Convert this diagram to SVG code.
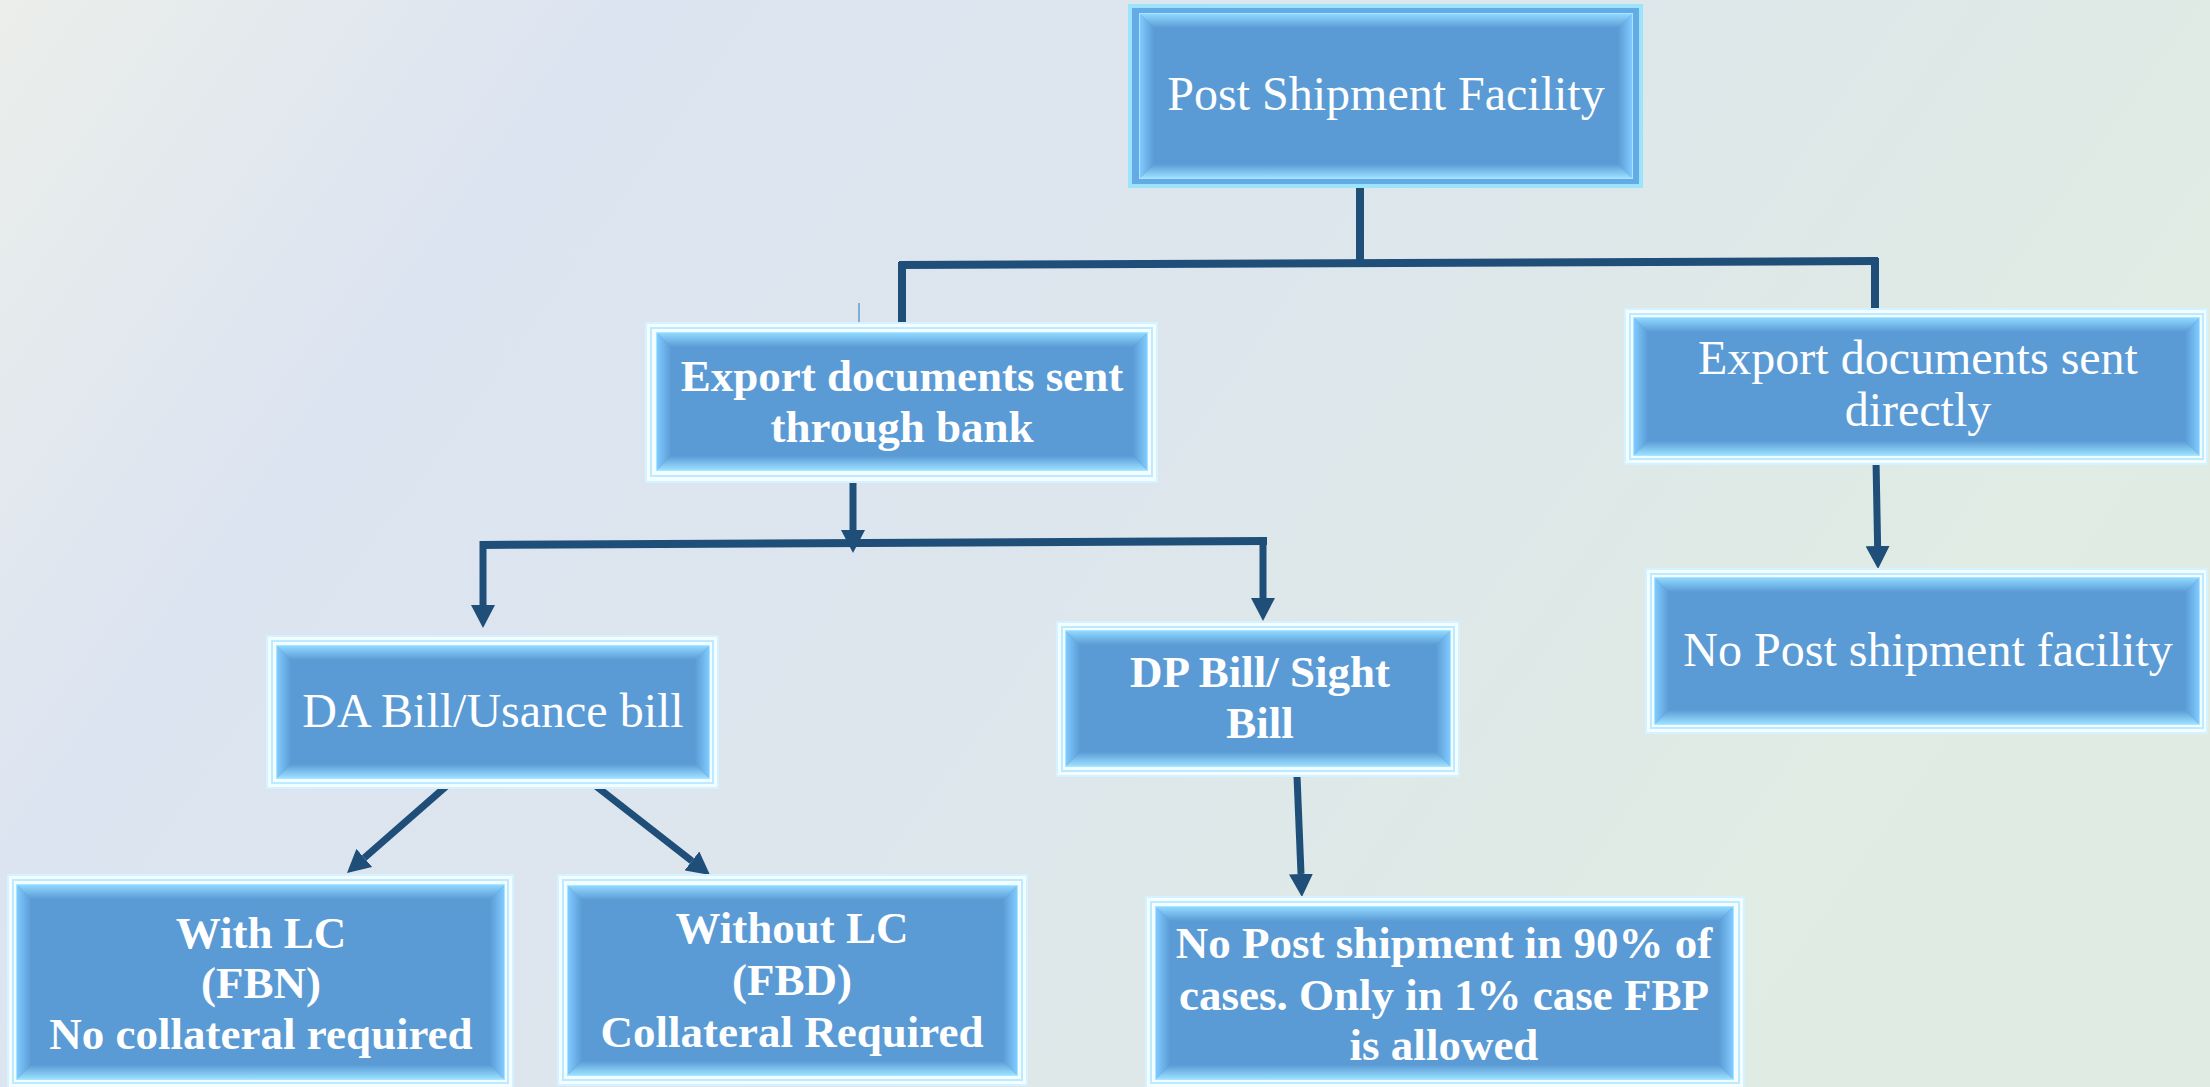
<svg xmlns="http://www.w3.org/2000/svg" width="2210" height="1087" viewBox="0 0 2210 1087">
<defs>
<linearGradient id="bg" x1="0" y1="0" x2="1" y2="0.35">
<stop offset="0" stop-color="#ebeeea"/>
<stop offset="0.25" stop-color="#dce4f1"/>
<stop offset="0.6" stop-color="#dde6ec"/>
<stop offset="1" stop-color="#e0ece3"/>
</linearGradient>
<linearGradient id="bt" x1="0" y1="0" x2="0" y2="1"><stop offset="0" stop-color="#8fd8ff"/><stop offset="1" stop-color="#5b9bd5"/></linearGradient>
<linearGradient id="bb" x1="0" y1="0" x2="0" y2="1"><stop offset="0" stop-color="#5b9bd5"/><stop offset="1" stop-color="#9ae0ff"/></linearGradient>
<linearGradient id="bl" x1="0" y1="0" x2="1" y2="0"><stop offset="0" stop-color="#80caff"/><stop offset="1" stop-color="#5b9bd5"/></linearGradient>
<linearGradient id="br" x1="0" y1="0" x2="1" y2="0"><stop offset="0" stop-color="#5b9bd5"/><stop offset="1" stop-color="#80caff"/></linearGradient>
<marker id="ah" viewBox="0 0 23 24" refX="0" refY="12" markerWidth="23" markerHeight="24" markerUnits="userSpaceOnUse" orient="auto">
<path d="M0,0 L23,12 L0,24 Z" fill="#1f4e79"/>
</marker>
<style>
.frame{fill:#f3fcff;stroke:#d4f2ff;stroke-width:2}
.frame1{fill:#64abe6;stroke:#9be4fb;stroke-width:4}
.in{fill:#5b9bd5;stroke:#a8e6ff;stroke-width:2}
.inset{fill:none;stroke:#bdeaff;stroke-width:2}
.t{fill:#5b9bd5}
.bt{fill:url(#bt)}.bb{fill:url(#bb)}.bl{fill:url(#bl)}.br{fill:url(#br)}
.lbl{font-family:"Liberation Serif","Times New Roman",serif;fill:#ffffff;text-anchor:middle}
.r{font-size:48px;font-weight:normal}
.b{font-size:45px;font-weight:bold}
.c{fill:none;stroke:#1f4e79;stroke-width:8;stroke-linecap:butt}
.ca{fill:none;stroke:#1f4e79;stroke-width:7;marker-end:url(#ah)}
</style>
</defs>
<rect x="0" y="0" width="2210" height="1087" fill="url(#bg)"/>

<g id="connectors">
<path class="c" d="M1360,186 L1360,264" stroke-width="7"/>
<path class="c" d="M899,265 L1878,261"/>
<path class="c" d="M902,262 L902,323" stroke-width="7"/>
<path class="c" d="M1875,258 L1875,313" stroke-width="7"/>
<path d="M859,303 L859,347" stroke="#5b9bd5" stroke-width="1.5" fill="none"/>
<path class="c" d="M480,545 L1267,541"/>
<path class="ca" d="M853,479 L853,530"/>
<path class="ca" d="M483,541 L483,605"/>
<path class="ca" d="M1263,537 L1263,598"/>
<path class="ca" d="M451,782 L364.3,857.9"/>
<path class="ca" d="M592,783 L691.9,860.9"/>
<path class="ca" d="M1297,776 L1301,874"/>
<path class="ca" d="M1876,460 L1877.6,546"/>
</g>

<g id="node-post-shipment-facility">
<rect class="frame1" x="1130" y="6" width="511" height="180"/>
<rect class="in" x="1140" y="14" width="492" height="164"/>
<polygon class="bt" points="1140,14 1632,14 1618,28 1154,28"/>
<polygon class="bb" points="1140,178 1632,178 1618,164 1154,164"/>
<polygon class="bl" points="1140,14 1154,28 1154,164 1140,178"/>
<polygon class="br" points="1632,14 1632,178 1618,164 1618,28"/>
<text class="lbl r" x="1386" y="110">Post Shipment Facility</text>
</g>

<g id="node-through-bank">
<rect class="frame" x="646" y="323" width="511" height="159"/>
<rect class="inset" x="651" y="328" width="501" height="148"/>
<rect class="in" x="657" y="333" width="490" height="137"/>
<polygon class="bt" points="657,333 1147,333 1133,347 671,347"/>
<polygon class="bb" points="657,470 1147,470 1133,456 671,456"/>
<polygon class="bl" points="657,333 671,347 671,456 657,470"/>
<polygon class="br" points="1147,333 1147,470 1133,456 1133,347"/>
<text class="lbl b" x="902" y="391">Export documents sent</text>
<text class="lbl b" x="902" y="442">through bank</text>
</g>

<g id="node-directly">
<rect class="frame" x="1625" y="309" width="582" height="155"/>
<rect class="inset" x="1630" y="314" width="573" height="145"/>
<rect class="in" x="1634" y="318" width="565" height="137"/>
<polygon class="bt" points="1634,318 2199,318 2185,332 1648,332"/>
<polygon class="bb" points="1634,455 2199,455 2185,441 1648,441"/>
<polygon class="bl" points="1634,318 1648,332 1648,441 1634,455"/>
<polygon class="br" points="2199,318 2199,455 2185,441 2185,332"/>
<text class="lbl r" x="1918" y="374">Export documents sent</text>
<text class="lbl r" x="1918" y="426">directly</text>
</g>

<g id="node-da-bill">
<rect class="frame" x="267" y="636" width="451" height="152"/>
<rect class="inset" x="272" y="641" width="441" height="142"/>
<rect class="in" x="277" y="646" width="432" height="132"/>
<polygon class="bt" points="277,646 709,646 695,660 291,660"/>
<polygon class="bb" points="277,778 709,778 695,764 291,764"/>
<polygon class="bl" points="277,646 291,660 291,764 277,778"/>
<polygon class="br" points="709,646 709,778 695,764 695,660"/>
<text class="lbl r" x="493" y="727">DA Bill/Usance bill</text>
</g>

<g id="node-dp-bill">
<rect class="frame" x="1057" y="622" width="402" height="154"/>
<rect class="inset" x="1062" y="627" width="392" height="144"/>
<rect class="in" x="1066" y="631" width="384" height="135"/>
<polygon class="bt" points="1066,631 1450,631 1436,645 1080,645"/>
<polygon class="bb" points="1066,766 1450,766 1436,752 1080,752"/>
<polygon class="bl" points="1066,631 1080,645 1080,752 1066,766"/>
<polygon class="br" points="1450,631 1450,766 1436,752 1436,645"/>
<text class="lbl b" x="1260" y="687">DP Bill/ Sight</text>
<text class="lbl b" x="1260" y="738">Bill</text>
</g>

<g id="node-no-post-facility">
<rect class="frame" x="1646" y="569" width="561" height="164"/>
<rect class="inset" x="1651" y="574" width="552" height="154"/>
<rect class="in" x="1655" y="578" width="544" height="146"/>
<polygon class="bt" points="1655,578 2199,578 2185,592 1669,592"/>
<polygon class="bb" points="1655,724 2199,724 2185,710 1669,710"/>
<polygon class="bl" points="1655,578 1669,592 1669,710 1655,724"/>
<polygon class="br" points="2199,578 2199,724 2185,710 2185,592"/>
<text class="lbl r" x="1928" y="666">No Post shipment facility</text>
</g>

<g id="node-with-lc">
<rect class="frame" x="8" y="875" width="505" height="214"/>
<rect class="inset" x="13" y="880" width="495" height="203"/>
<rect class="in" x="17" y="885" width="487" height="194"/>
<polygon class="bt" points="17,885 504,885 490,899 31,899"/>
<polygon class="bb" points="17,1079 504,1079 490,1065 31,1065"/>
<polygon class="bl" points="17,885 31,899 31,1065 17,1079"/>
<polygon class="br" points="504,885 504,1079 490,1065 490,899"/>
<text class="lbl b" x="261" y="948">With LC</text>
<text class="lbl b" x="261" y="998">(FBN)</text>
<text class="lbl b" x="261" y="1049">No collateral required</text>
</g>

<g id="node-without-lc">
<rect class="frame" x="558" y="875" width="469" height="210"/>
<rect class="inset" x="563" y="880" width="459" height="200"/>
<rect class="in" x="568" y="886" width="449" height="189"/>
<polygon class="bt" points="568,886 1017,886 1003,900 582,900"/>
<polygon class="bb" points="568,1075 1017,1075 1003,1061 582,1061"/>
<polygon class="bl" points="568,886 582,900 582,1061 568,1075"/>
<polygon class="br" points="1017,886 1017,1075 1003,1061 1003,900"/>
<text class="lbl b" x="792" y="943">Without LC</text>
<text class="lbl b" x="792" y="995">(FBD)</text>
<text class="lbl b" x="792" y="1047">Collateral Required</text>
</g>

<g id="node-no-post-90">
<rect class="frame" x="1146" y="897" width="598" height="192"/>
<rect class="inset" x="1151" y="902" width="588" height="181"/>
<rect class="in" x="1156" y="907" width="577" height="172"/>
<polygon class="bt" points="1156,907 1733,907 1719,921 1170,921"/>
<polygon class="bb" points="1156,1079 1733,1079 1719,1065 1170,1065"/>
<polygon class="bl" points="1156,907 1170,921 1170,1065 1156,1079"/>
<polygon class="br" points="1733,907 1733,1079 1719,1065 1719,921"/>
<text class="lbl b" x="1444" y="958">No Post shipment in 90% of</text>
<text class="lbl b" x="1444" y="1010">cases. Only in 1% case FBP</text>
<text class="lbl b" x="1444" y="1060">is allowed</text>
</g>
</svg>
